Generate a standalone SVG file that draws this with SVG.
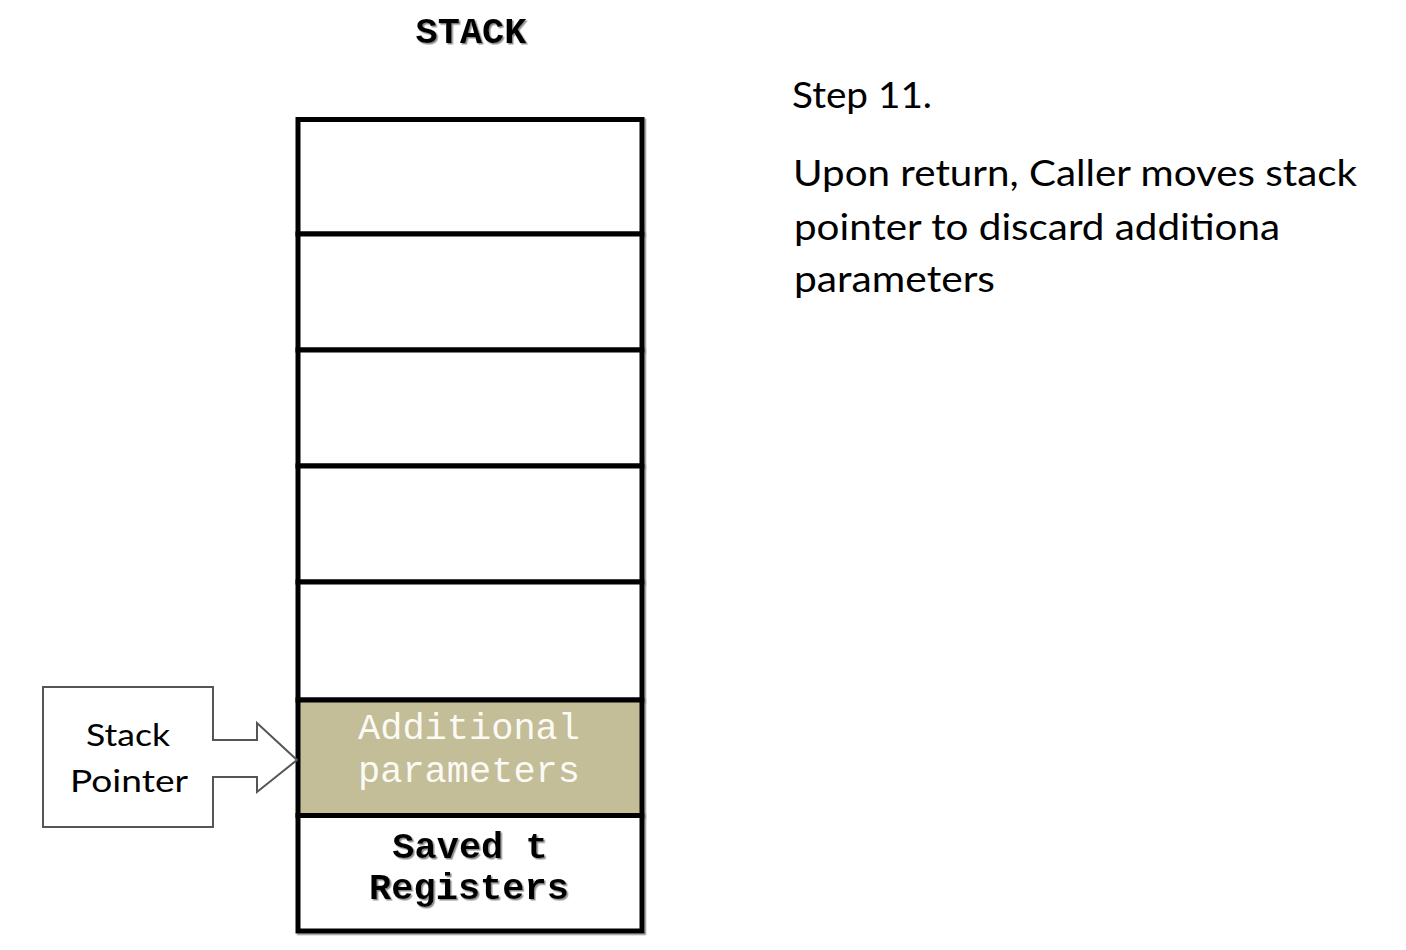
<svg xmlns="http://www.w3.org/2000/svg" width="1406" height="950" viewBox="0 0 1406 950">
<defs>
<filter id="sh" x="-10%" y="-10%" width="130%" height="130%">
<feDropShadow dx="1.5" dy="1.5" stdDeviation="0.6" flood-color="#808080" flood-opacity="0.9"/>
</filter>
<style>
.cell{fill:#ffffff;stroke:#000;stroke-width:5}
.hl{fill:#c3bd98;stroke:#000;stroke-width:5}
.mono{font-family:"Liberation Mono","Courier New",monospace;text-anchor:middle}
.body{font-family:Lato,"Open Sans",sans-serif;fill:#000}
.call{fill:#fff;stroke:#555;stroke-width:2;stroke-linejoin:miter}
</style>
</defs>
<rect width="1406" height="950" fill="#fff"/>
<text class="mono" x="471" y="43" font-size="37" font-weight="bold" filter="url(#sh)">STACK</text>
<g id="stack" filter="url(#sh)">
<rect class="cell" x="298" y="119.5" width="344" height="114.5"/>
<rect class="cell" x="298" y="234" width="344" height="116"/>
<rect class="cell" x="298" y="350" width="344" height="116"/>
<rect class="cell" x="298" y="466" width="344" height="116"/>
<rect class="cell" x="298" y="582" width="344" height="118"/>
<rect class="hl" x="298" y="700" width="344" height="115.5"/>
<rect class="cell" x="298" y="815.5" width="344" height="115.5"/>
</g>
<g id="additional">
<text class="mono" x="469" y="739" font-size="37" fill="#fbfaf4">Additional</text>
<text class="mono" x="469" y="782" font-size="37" fill="#fbfaf4">parameters</text>
</g>
<g id="saved" filter="url(#sh)">
<text class="mono" x="470" y="858" font-size="37" font-weight="bold">Saved t</text>
<text class="mono" x="469" y="899" font-size="37" font-weight="bold">Registers</text>
</g>
<g id="connectors">
<path class="call" d="M43,687 L213,687 L213,740 L257,740 L257,723 L297,760 L257,792 L257,777 L213,777 L213,827 L43,827 Z"/>
</g>
<g id="stackpointer">
<text x="128" y="746" font-family="Lato,'Open Sans',sans-serif" font-size="31" text-anchor="middle" textLength="84" lengthAdjust="spacingAndGlyphs">Stack</text>
<text x="129" y="792" font-family="Lato,'Open Sans',sans-serif" font-size="31" text-anchor="middle" textLength="118" lengthAdjust="spacingAndGlyphs">Pointer</text>
</g>
<g id="description">
<text class="body" x="792" y="108" font-size="36" textLength="140" lengthAdjust="spacingAndGlyphs">Step 11.</text>
<text class="body" x="793" y="186" font-size="36" textLength="564" lengthAdjust="spacingAndGlyphs">Upon return, Caller moves stack</text>
<text class="body" x="794" y="240" font-size="36" textLength="486" lengthAdjust="spacingAndGlyphs">pointer to discard additiona</text>
<text class="body" x="794" y="292" font-size="36" textLength="201" lengthAdjust="spacingAndGlyphs">parameters</text>
</g>
</svg>
